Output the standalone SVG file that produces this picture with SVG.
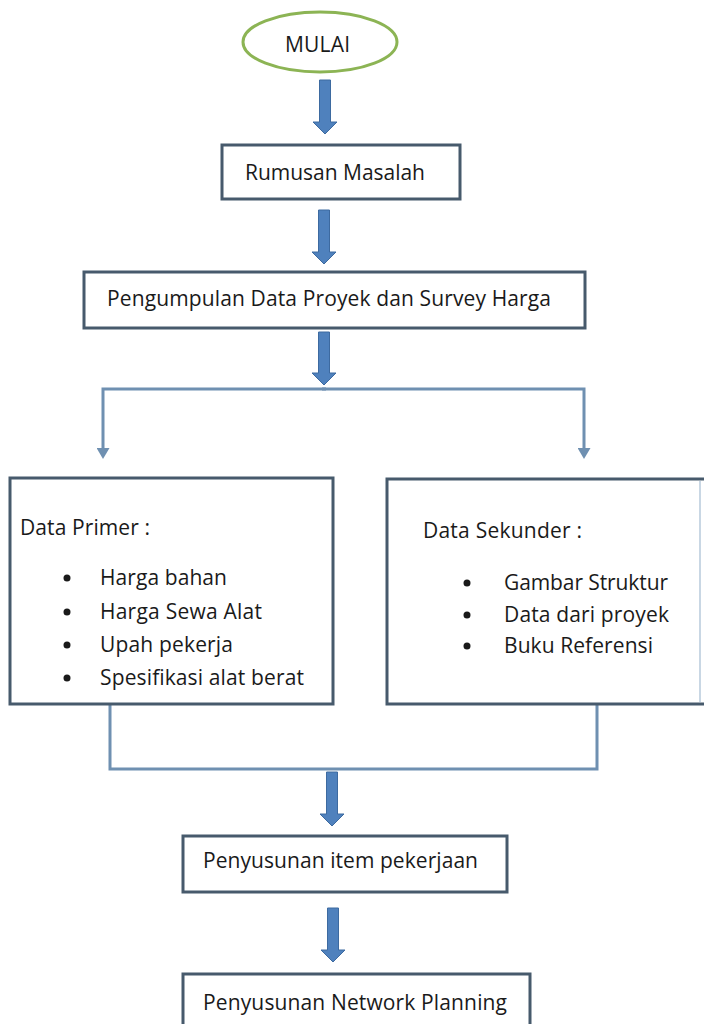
<svg xmlns="http://www.w3.org/2000/svg" width="704" height="1024" viewBox="0 0 704 1024">
  <style>
    .box { fill: #ffffff; stroke: #475a6c; stroke-width: 3; }
    .open { fill: none; stroke: #475a6c; stroke-width: 3; }
    .faint { fill: none; stroke: #c9d7e4; stroke-width: 2; }
    .start { fill: #ffffff; stroke: #8cb454; stroke-width: 3; }
    .label { font-family: "Open Sans", "Liberation Sans", sans-serif; font-size: 21px; fill: #1a1a1a; }
    .flow { fill: #4f81bd; stroke: #3d6aa0; stroke-width: 1; }
    .branch { fill: none; stroke: #6f90b1; stroke-width: 3; }
    .dot { fill: #1a1a1a; }
  </style>
  <defs>
    <marker id="head" viewBox="0 0 11 13" refX="0" refY="6.5" markerWidth="11" markerHeight="13" markerUnits="userSpaceOnUse" orient="auto">
      <path d="M0,0 L11,6.5 L0,13 z" fill="#6f90b1"/>
    </marker>
  </defs>
  <rect width="704" height="1024" fill="#ffffff"/>

  <!-- connectors -->
  <g id="connectors">
    <!-- block arrows between steps -->
    <path class="flow" d="M319.5,80 H330.5 V122 H337 L325,134 L313,122 H319.5 Z"/>
    <path class="flow" d="M318.5,210 H329.5 V252 H336 L324,264 L312,252 H318.5 Z"/>
    <path class="flow" d="M318.5,332 H329.5 V373 H336 L324,385 L312,373 H318.5 Z"/>
    <path class="flow" d="M326.5,772 H337.5 V814 H344 L332,826 L320,814 H326.5 Z"/>
    <path class="flow" d="M327.5,908 H338.5 V950 H345 L333,962 L321,950 H327.5 Z"/>
    <!-- split to the two data boxes -->
    <path class="branch" d="M326,389 H103 V448" marker-end="url(#head)"/>
    <path class="branch" d="M322,389 H584 V448" marker-end="url(#head)"/>
    <!-- merge from the two data boxes -->
    <path class="branch" d="M110,704 V769 H597 V704"/>
  </g>

  <g id="mulai">
    <ellipse class="start" cx="320" cy="42" rx="77" ry="30"/>
    <text class="label" x="285" y="52" textLength="65">MULAI</text>
  </g>

  <g id="rumusan-masalah">
    <rect class="box" x="222" y="145" width="238" height="54"/>
    <text class="label" x="245" y="180" textLength="180">Rumusan Masalah</text>
  </g>

  <g id="pengumpulan-data">
    <rect class="box" x="84" y="272" width="501" height="56"/>
    <text class="label" x="107" y="306" textLength="444">Pengumpulan Data Proyek dan Survey Harga</text>
  </g>

  <g id="data-primer">
    <rect class="box" x="10" y="478" width="323" height="226"/>
    <text class="label" x="20" y="535" textLength="130">Data Primer :</text>
    <circle class="dot" cx="67" cy="578" r="3.5"/>
    <circle class="dot" cx="67" cy="612" r="3.5"/>
    <circle class="dot" cx="67" cy="645" r="3.5"/>
    <circle class="dot" cx="67" cy="678" r="3.5"/>
    <text class="label" x="100" y="585" textLength="127">Harga bahan</text>
    <text class="label" x="100" y="619" textLength="162">Harga Sewa Alat</text>
    <text class="label" x="100" y="652" textLength="133">Upah pekerja</text>
    <text class="label" x="100" y="685" textLength="204">Spesifikasi alat berat</text>
  </g>

  <g id="data-sekunder">
    <rect x="387" y="479" width="317" height="225" fill="#ffffff"/>
    <line class="faint" x1="700" y1="481" x2="700" y2="702"/>
    <path class="open" d="M704,479 H387 V704 H704"/>
    <text class="label" x="423" y="538" textLength="159">Data Sekunder :</text>
    <circle class="dot" cx="467" cy="583" r="3.5"/>
    <circle class="dot" cx="467" cy="615" r="3.5"/>
    <circle class="dot" cx="467" cy="646" r="3.5"/>
    <text class="label" x="504" y="590" textLength="164">Gambar Struktur</text>
    <text class="label" x="504" y="622" textLength="165">Data dari proyek</text>
    <text class="label" x="504" y="653" textLength="149">Buku Referensi</text>
  </g>

  <g id="penyusunan-item">
    <rect class="box" x="183" y="836" width="324" height="56"/>
    <text class="label" x="203" y="868" textLength="275">Penyusunan item pekerjaan</text>
  </g>

  <g id="penyusunan-network">
    <rect class="box" x="183" y="974" width="347" height="60"/>
    <text class="label" x="203" y="1010" textLength="304">Penyusunan Network Planning</text>
  </g>
</svg>
